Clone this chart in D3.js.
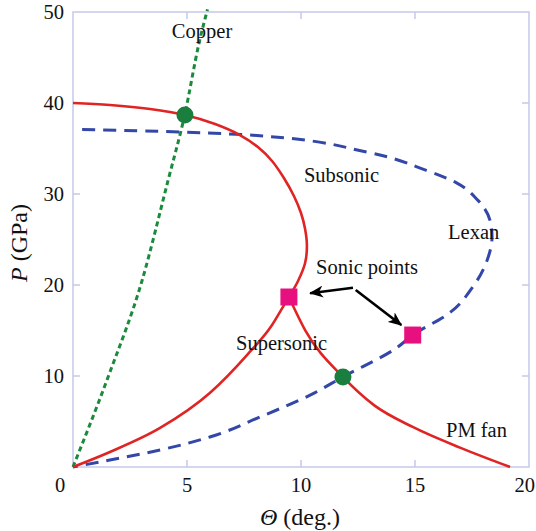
<!DOCTYPE html>
<html>
<head>
<meta charset="utf-8">
<script src="https://cdn.jsdelivr.net/npm/d3@7"></script>
<style>
  body { margin: 0; background: #fff; }
  text { font-family: "Liberation Serif", "Times New Roman", serif; fill: #111; }
</style>
</head>
<body>
<svg id="chart" width="536" height="531"></svg>
<script>
// theta (deg), P (GPa)
var copper = [[0,0],[1.54,9.9],[3.03,20.5],[4.17,31.5],[4.9,38.7],[5.53,46.6],[5.9,50.3]];
var subsonic = [[0,40],[1.62,39.78],[3.38,39.34],[4.91,38.68],[6.23,37.69],[7.32,36.48],[8.11,35.16],[8.73,33.63],[9.25,31.76],[9.69,29.78],[10.0,27.91],[10.18,26.15],[10.26,24.29],[10.18,22.42],[9.87,20.44],[9.47,18.68]];
var supersonic = [[0,0],[1.62,1.65],[3.82,4.29],[6.0,8.13],[7.63,12.3],[8.73,15.6],[9.21,17.6],[9.47,18.68]];
var pmFan = [[9.47,18.68],[10.18,15.05],[11.84,9.9],[13.2,6.8],[14.9,4.4],[17,2.1],[19.17,0]];
var lexan = [[0.4,37.1],[4.82,36.8],[8.2,36.4],[12.9,34.6],[15.5,32.6],[16.84,31.2],[17.76,29.3],[18.29,27.1],[18.38,25.3],[18.16,22.7],[17.54,19.8],[16.5,16.9],[14.9,14.5],[14.2,13.1],[11.84,9.9],[10.4,7.9],[8.2,5.5],[6.0,3.3],[3.82,1.87],[1.62,0.77],[0,0]];
var crossings = [[4.91,38.68],[11.84,9.9]];
var sonicPoints = [[9.47,18.68],[14.9,14.5]];
var arrows = [[[12.28,19.7],[10.4,19.1]],[[12.4,19.45],[14.4,15.6]]];
var labels = [
  {t:"Copper", x:5.66, y:47.1, a:"middle"},
  {t:"Subsonic", x:10.13, y:31.3, a:"start"},
  {t:"Lexan", x:16.45, y:25.05, a:"start"},
  {t:"Sonic points", x:10.66, y:21.2, a:"start"},
  {t:"Supersonic", x:7.15, y:12.86, a:"start"},
  {t:"PM fan", x:16.36, y:3.3, a:"start"}
];
var xTicks = [5,10,15,20];
var yTicks = [10,20,30,40,50];

var svg = d3.select("#chart");
var x = d3.scaleLinear().domain([0,20]).range([73,529]);
var y = d3.scaleLinear().domain([0,50]).range([467,12]);
var frameColor = "#c6c8ea";

// frame
svg.append("rect")
    .attr("x", x(0)).attr("y", y(50))
    .attr("width", x(20) - x(0)).attr("height", y(0) - y(50))
    .attr("fill", "none").attr("stroke", frameColor).attr("stroke-width", 1.5);

// inward ticks on all four sides
var tk = 7;
var gt = svg.append("g").attr("stroke", frameColor).attr("stroke-width", 1.5);
xTicks.slice(0, -1).forEach(function(v){
    gt.append("line").attr("x1", x(v)).attr("x2", x(v)).attr("y1", y(0)).attr("y2", y(0) - tk);
    gt.append("line").attr("x1", x(v)).attr("x2", x(v)).attr("y1", y(50)).attr("y2", y(50) + tk);
});
yTicks.slice(0, -1).forEach(function(v){
    gt.append("line").attr("x1", x(0)).attr("x2", x(0) + tk).attr("y1", y(v)).attr("y2", y(v));
    gt.append("line").attr("x1", x(20)).attr("x2", x(20) - tk).attr("y1", y(v)).attr("y2", y(v));
});

// tick labels
svg.append("g").selectAll("text").data(xTicks).join("text")
    .attr("x", (d, i) => i == xTicks.length - 1 ? 535 : x(d)).attr("y", 492)
    .attr("text-anchor", (d, i) => i == xTicks.length - 1 ? "end" : "middle")
    .attr("font-size", 20.5)
    .text(d => d);
svg.append("text").attr("x", 60).attr("y", 492)
    .attr("text-anchor", "middle").attr("font-size", 20.5).text("0");
svg.append("g").selectAll("text").data(yTicks).join("text")
    .attr("x", 64).attr("y", d => y(d) + 7)
    .attr("text-anchor", "end").attr("font-size", 20.5)
    .text(d => d);

// axis titles
var xt = svg.append("text").attr("x", 300).attr("y", 525)
    .attr("text-anchor", "middle").attr("font-size", 24);
xt.append("tspan").attr("font-style", "italic").text("\u0398");
xt.append("tspan").text(" (deg.)");
var yt = svg.append("text").attr("transform", "translate(27,243) rotate(-90)")
    .attr("text-anchor", "middle").attr("font-size", 24);
yt.append("tspan").attr("font-style", "italic").text("P");
yt.append("tspan").text(" (GPa)");

var lineX = d3.line()
    .x(d => x(d[0])).y(d => y(d[1]))
    .curve(d3.curveMonotoneX);
var lineY = d3.line()
    .x(d => x(d[0])).y(d => y(d[1]))
    .curve(d3.curveMonotoneY);
var lineArc = d3.line()
    .x(d => x(d[0])).y(d => y(d[1]))
    .curve(d3.curveCatmullRom.alpha(0.5));

// curves
svg.append("path").attr("d", lineY(lexan))
    .attr("fill", "none").attr("stroke", "#3347a8").attr("stroke-width", 3)
    .attr("stroke-dasharray", "13,8");
svg.append("path").attr("d", lineX(copper))
    .attr("fill", "none").attr("stroke", "#1a8a3c").attr("stroke-width", 3)
    .attr("stroke-dasharray", "5,3.5");
var red = "#e02424";
svg.append("path").attr("d", lineArc(subsonic))
    .attr("fill", "none").attr("stroke", red).attr("stroke-width", 2.6);
[supersonic, pmFan].forEach(function(c){
    svg.append("path").attr("d", lineX(c))
        .attr("fill", "none").attr("stroke", red).attr("stroke-width", 2.6);
});

// markers
svg.append("g").selectAll("circle").data(crossings).join("circle")
    .attr("cx", d => x(d[0])).attr("cy", d => y(d[1])).attr("r", 8.5)
    .attr("fill", "#1a7f3e");
var sq = 17;
svg.append("g").selectAll("rect").data(sonicPoints).join("rect")
    .attr("x", d => x(d[0]) - sq/2).attr("y", d => y(d[1]) - sq/2)
    .attr("width", sq).attr("height", sq)
    .attr("fill", "#e6117f");

// arrows
svg.append("defs").append("marker")
    .attr("id", "head").attr("viewBox", "0 -6 14 12")
    .attr("refX", 13).attr("refY", 0)
    .attr("markerWidth", 14).attr("markerHeight", 12)
    .attr("markerUnits", "userSpaceOnUse").attr("orient", "auto")
    .append("path").attr("d", "M0,-6L14,0L0,6L4,0Z").attr("fill", "#000");
svg.append("g").selectAll("line").data(arrows).join("line")
    .attr("x1", d => x(d[0][0])).attr("y1", d => y(d[0][1]))
    .attr("x2", d => x(d[1][0])).attr("y2", d => y(d[1][1]))
    .attr("stroke", "#000").attr("stroke-width", 2.6)
    .attr("marker-end", "url(#head)");

// labels
svg.append("g").selectAll("text").data(labels).join("text")
    .attr("x", d => x(d.x)).attr("y", d => y(d.y))
    .attr("text-anchor", d => d.a).attr("font-size", 20.5)
    .text(d => d.t);
</script>
</body>
</html>
